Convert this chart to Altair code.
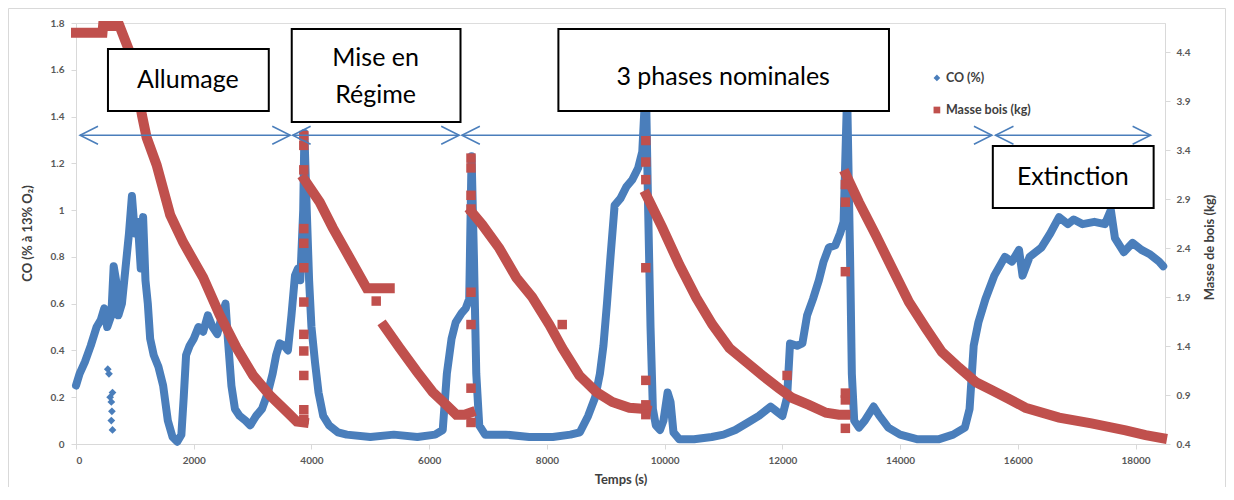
import altair as alt
import pandas as pd

# ---------------- data ----------------
# CO (%) main trace
co_t = [0, 60, 150, 250, 350, 420, 480, 530, 600, 640, 680, 720, 780, 840, 900, 950, 1000, 1050,
        1100, 1140, 1180, 1220, 1260, 1320, 1400, 1480, 1560, 1640, 1720, 1790, 1830, 1870, 1930,
        2000, 2080, 2160, 2240, 2320, 2400, 2480, 2540, 2580, 2640, 2700, 2780, 2880, 2960, 3060,
        3160, 3260, 3340, 3400, 3460, 3540, 3600, 3660, 3720, 3770, 3810, 3860, 3880, 3920, 3960,
        4000, 4060, 4120, 4200, 4300, 4450, 4600, 5000, 5400, 5800, 6100, 6230, 6300, 6380, 6450,
        6550, 6620, 6680, 6720, 6760, 6800, 6850, 6950, 7300, 7700, 8100, 8400, 8560, 8700, 8820,
        8900, 8960, 9020, 9080, 9150, 9250, 9350, 9450, 9550, 9620, 9680, 9720, 9760, 9800, 9850,
        9920, 9980, 10050, 10100, 10150, 10250, 10500, 10800, 11000, 11200, 11400, 11600, 11800,
        11900, 12000, 12080, 12130, 12250, 12340, 12420, 12520, 12620, 12700, 12790, 12900, 12980,
        13040, 13100, 13150, 13180, 13220, 13300, 13400, 13550, 13650, 13800, 14000, 14300, 14650,
        14900, 15100, 15180, 15250, 15330, 15450, 15600, 15780, 15900, 16020, 16080, 16200, 16400,
        16550, 16700, 16850, 16950, 17100, 17300, 17480, 17580, 17650, 17800, 17950, 18100, 18250,
        18400, 18470]
co_v = [0.25, 0.30, 0.35, 0.42, 0.50, 0.53, 0.58, 0.50, 0.55, 0.76, 0.70, 0.55, 0.60, 0.75, 0.90,
        1.06, 0.90, 0.95, 0.75, 0.97, 0.70, 0.60, 0.45, 0.38, 0.33, 0.25, 0.10, 0.03, 0.01, 0.04,
        0.20, 0.38, 0.42, 0.45, 0.50, 0.48, 0.55, 0.50, 0.47, 0.55, 0.60, 0.45, 0.25, 0.15, 0.12,
        0.10, 0.08, 0.12, 0.15, 0.22, 0.30, 0.38, 0.43, 0.42, 0.40, 0.55, 0.72, 0.75, 0.70, 1.00,
        1.33, 1.00, 0.70, 0.50, 0.35, 0.22, 0.12, 0.08, 0.05, 0.04, 0.03, 0.04, 0.03, 0.04, 0.06,
        0.30, 0.45, 0.52, 0.56, 0.58, 0.62, 1.23, 0.80, 0.30, 0.08, 0.04, 0.04, 0.03, 0.03, 0.04,
        0.05, 0.12, 0.20, 0.30, 0.42, 0.60, 0.80, 1.02, 1.05, 1.10, 1.13, 1.18, 1.25, 1.55, 1.00,
        0.50, 0.15, 0.08, 0.06, 0.10, 0.22, 0.18, 0.05, 0.02, 0.02, 0.03, 0.04, 0.06, 0.09, 0.12,
        0.16, 0.14, 0.12, 0.20, 0.43, 0.42, 0.43, 0.55, 0.62, 0.70, 0.78, 0.84, 0.85, 0.90, 0.95,
        1.50, 0.80, 0.30, 0.10, 0.07, 0.10, 0.16, 0.12, 0.07, 0.04, 0.02, 0.02, 0.04, 0.07, 0.15,
        0.42, 0.52, 0.62, 0.72, 0.80, 0.78, 0.83, 0.72, 0.80, 0.84, 0.90, 0.97, 0.94, 0.96, 0.94,
        0.95, 0.94, 1.00, 0.88, 0.82, 0.86, 0.83, 0.81, 0.78, 0.76]

# CO isolated points
co_out_t = [540, 560, 580, 600, 600, 610, 620, 620]
co_out_v = [0.32, 0.30, 0.20, 0.18, 0.10, 0.14, 0.22, 0.06]

# Masse bois (kg), continuous segments
mass_t = [0, 450, 460, 740, 830, 915, 1030, 1120, 1200, 1370, 1600, 1820, 2160, 2440, 2730, 3010,
          3290, 3580, 3750, 3870,
          3880, 4140, 4360, 4650, 4940, 5330,
          5240, 5500, 5790, 6060, 6290, 6460, 6600, 6700,
          6720, 6900, 7190, 7480, 7750, 8040, 8260, 8550, 8840, 9110, 9400, 9620, 9690,
          9690, 9960, 10250, 10540, 10810, 11100, 11380, 11660, 11940, 12170, 12450, 12740, 12960,
          13070,
          13080, 13300, 13590, 13860, 14150, 14440, 14710, 15000, 15290, 15560, 15850, 16130, 16700,
          17250, 17830, 18170, 18450]
mass_v = [4.60, 4.60, 4.67, 4.67, 4.53, 4.40, 4.10, 3.76, 3.53, 3.25, 2.74, 2.46, 2.10, 1.72, 1.38,
          1.10, 0.90, 0.73, 0.63, 0.62,
          3.10, 2.87, 2.61, 2.30, 1.99, 1.99,
          1.60, 1.38, 1.14, 0.93, 0.80, 0.70, 0.70, 0.72,
          2.77, 2.64, 2.40, 2.10, 1.90, 1.62, 1.38, 1.10, 0.93, 0.83, 0.77, 0.76, 0.75,
          2.94, 2.61, 2.23, 1.89, 1.62, 1.38, 1.24, 1.10, 0.97, 0.87, 0.80, 0.72, 0.70, 0.70,
          3.15, 2.87, 2.53, 2.20, 1.85, 1.58, 1.34, 1.18, 1.03, 0.95, 0.86, 0.77, 0.67, 0.61, 0.54,
          0.49, 0.46]
mass_seg = ([1] * 20 + [2] * 6 + [3] * 8 + [4] * 13 + [5] * 14 + [6] * 17)

# Masse bois isolated squares (reloads)
mass_out_t = [3870] * 12 + [6710] * 8 + [5100, 8260, 12080] + [9680] * 7 + [13070] * 6
mass_out_v = [0.65, 0.75, 1.10, 1.35, 1.52, 1.85, 2.20, 2.45, 2.60, 3.20, 3.45, 3.55,
              0.62, 0.97, 1.62, 1.95, 2.80, 2.94, 3.22, 3.32,
              1.86, 1.62, 1.10,
              0.70, 0.80, 1.05, 2.20, 3.10, 3.28, 3.50,
              0.56, 0.85, 0.92, 2.16, 2.87, 3.05]

# phases (arrows)
phase_start = [68, 3680, 6555, 15620]
phase_end = [3640, 6510, 15560, 18256]
arrow_level = [1.32, 1.32, 1.32, 1.32]

# phase boxes
box_x1 = [543, 3665, 8195, 15575]
box_x2 = [3275, 6532, 13811, 18307]
box_y1 = [1.689, 1.774, 1.774, 1.274]
box_y2 = [1.424, 1.377, 1.424, 1.009]
label_t = [1900, 5090, 5090, 10994, 16933]
label_co = [1.556, 1.650, 1.492, 1.569, 1.142]
label_text = ["Allumage", "Mise en", "Régime", "3 phases nominales", "Extinction"]

# legend
legend_names = ["CO (%)", "Masse bois (kg)"]
legend_t = [14625, 14625]
legend_text_t = [14778, 14778]
legend_co = [1.565, 1.428]

x_ticks = [0, 2000, 4000, 6000, 8000, 10000, 12000, 14000, 16000, 18000]
co_ticks = [0, 0.2, 0.4, 0.6, 0.8, 1.0, 1.2, 1.4, 1.6, 1.8]
mass_ticks = [0.4, 0.9, 1.4, 1.9, 2.4, 2.9, 3.4, 3.9, 4.4]

# ---------------- styling ----------------
BLUE = "#4a7ebb"
RED = "#c0504d"
FONT = "Lato"
AXIS_GREY = "#d9d9d9"

xscale = alt.Scale(domain=[0, 18500], nice=False, zero=False)
yco = alt.Scale(domain=[0, 1.8], nice=False, zero=False)
ymass = alt.Scale(domain=[0.4, 4.7], nice=False, zero=False)

common_axis = dict(grid=False, domainColor=AXIS_GREY, tickColor=AXIS_GREY, tickSize=5,
                   labelFont=FONT, labelFontSize=10, labelFontWeight="bold", labelColor="#595959",
                   titleFont=FONT, titleFontSize=13, titleFontWeight="bold", titleColor="#404040")

xaxis = alt.Axis(values=x_ticks, format="d", title="Temps (s)", orient="bottom", labelPadding=6,
                 titlePadding=8, **common_axis)
yaxis_left = alt.Axis(values=co_ticks, format="~g", title="CO (% à 13% O₂)", orient="left",
                      labelPadding=7, titleAngle=270, titleX=-49, titleY=210,
                      titleAlign="center", titleBaseline="middle", **common_axis)
yaxis_right = alt.Axis(values=mass_ticks, format=".1f", title="Masse de bois (kg)", orient="right",
                       labelPadding=6, titleAngle=270, titleX=44, titleY=224,
                       titleAlign="center", titleBaseline="middle", **common_axis)

co_df = pd.DataFrame({"t": co_t, "co": co_v})
co_out_df = pd.DataFrame({"t": co_out_t, "co": co_out_v})
mass_df = pd.DataFrame({"t": mass_t, "m": mass_v, "seg": mass_seg})
mass_out_df = pd.DataFrame({"t": mass_out_t, "m": mass_out_v})
arrow_df = pd.DataFrame({"t1": phase_start, "t2": phase_end, "co": arrow_level})
box_df = pd.DataFrame({"x1": box_x1, "x2": box_x2, "y1": box_y1, "y2": box_y2})
label_df = pd.DataFrame({"t": label_t, "co": label_co, "txt": label_text})
legend_df = pd.DataFrame({"t": legend_t, "tt": legend_text_t, "co": legend_co, "name": legend_names})


def X(field):
    return alt.X(field, type="quantitative", scale=xscale, axis=xaxis)


co_line = alt.Chart(co_df).mark_line(color=BLUE, strokeWidth=8, strokeJoin="round",
                                     strokeCap="round").encode(
    x=X("t"),
    y=alt.Y("co:Q", scale=yco, axis=yaxis_left),
)

co_pts = alt.Chart(co_out_df).mark_point(shape="diamond", filled=True, color=BLUE, size=60,
                                         opacity=1).encode(
    x=X("t"),
    y=alt.Y("co:Q", scale=yco, axis=None),
)

mass_line = alt.Chart(mass_df).mark_line(color=RED, strokeWidth=10, strokeJoin="miter",
                                         strokeCap="square").encode(
    x=X("t"),
    y=alt.Y("m:Q", scale=ymass, axis=yaxis_right),
    detail="seg:N",
)

mass_sq = alt.Chart(mass_out_df).mark_square(color=RED, size=90, opacity=1).encode(
    x=X("t"),
    y=alt.Y("m:Q", scale=ymass, axis=None),
)

arrow_line = alt.Chart(arrow_df).mark_rule(color=BLUE, strokeWidth=1.5).encode(
    x=X("t1"),
    x2="t2:Q",
    y=alt.Y("co:Q", scale=yco, axis=None),
)
head_right = alt.Chart(arrow_df).mark_point(shape="M-2,-1L0,0L-2,1", size=324, color=BLUE,
                                            strokeWidth=1.5, filled=False, opacity=1).encode(
    x=X("t2"),
    y=alt.Y("co:Q", scale=yco, axis=None),
)
head_left = alt.Chart(arrow_df).mark_point(shape="M2,-1L0,0L2,1", size=324, color=BLUE,
                                           strokeWidth=1.5, filled=False, opacity=1).encode(
    x=X("t1"),
    y=alt.Y("co:Q", scale=yco, axis=None),
)

boxes = alt.Chart(box_df).mark_rect(fill="white", stroke="black", strokeWidth=2).encode(
    x=X("x1"),
    x2="x2:Q",
    y=alt.Y("y1:Q", scale=yco, axis=None),
    y2="y2:Q",
)

labels = alt.Chart(label_df).mark_text(font=FONT, fontSize=25, color="black", align="center",
                                       baseline="middle").encode(
    x=X("t"),
    y=alt.Y("co:Q", scale=yco, axis=None),
    text="txt:N",
)

legend_sym = alt.Chart(legend_df).mark_point(filled=True, opacity=1).encode(
    x=X("t"),
    y=alt.Y("co:Q", scale=yco, axis=None),
    shape=alt.Shape("name:N", scale=alt.Scale(domain=legend_names, range=["diamond", "square"]),
                    legend=None),
    color=alt.Color("name:N", scale=alt.Scale(domain=legend_names, range=[BLUE, RED]),
                    legend=None),
    size=alt.value(45),
)
legend_txt = alt.Chart(legend_df).mark_text(font=FONT, fontSize=12.5, fontWeight="bold",
                                            color="#404040", align="left",
                                            baseline="middle").encode(
    x=X("tt"),
    y=alt.Y("co:Q", scale=yco, axis=None),
    text="name:N",
)

frame = alt.Chart(pd.DataFrame({"k": [0]})).mark_rect(fill="white", fillOpacity=0,
                                                      stroke=AXIS_GREY, strokeWidth=1).encode(
    x=alt.value(-67.5), x2=alt.value(1149.5), y=alt.value(-14.5), y2=alt.value(600)
)

chart = alt.layer(
    co_line, co_pts, mass_line, mass_sq, arrow_line, head_left, head_right,
    boxes, labels, legend_sym, legend_txt, frame
).resolve_scale(
    y="independent"
).properties(
    width=1089, height=421,
    autosize=alt.AutoSizeParams(type="none"),
    padding={"left": 68, "top": 15, "right": 61, "bottom": 43},
).configure_view(stroke=None).configure(background="white")

chart.save("out.html", embed_options={"renderer": "svg", "actions": False})
